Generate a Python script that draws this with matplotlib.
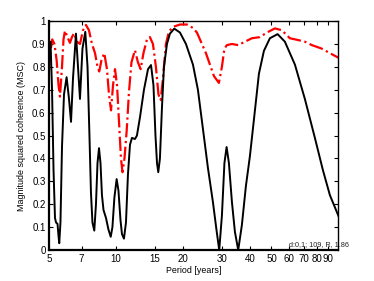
import numpy as np
import matplotlib
matplotlib.use('Agg')
import matplotlib.pyplot as plt

# MSC curve (solid black)
msc_period = [5.00, 5.08, 5.16, 5.24, 5.32, 5.38, 5.46, 5.52, 5.56, 5.63, 5.72, 5.84,
              6.00, 6.15, 6.28, 6.41, 6.61, 6.75, 6.89, 7.07, 7.28, 7.45, 7.60, 7.72,
              7.84, 7.99, 8.13, 8.26, 8.39, 8.52, 8.65, 8.79, 9.02, 9.25, 9.47, 9.64,
              9.84, 10.07, 10.26, 10.48, 10.64, 10.86, 11.09, 11.32, 11.56, 11.80, 12.17,
              12.42, 12.82, 13.36, 13.93, 14.37, 14.74, 15.05, 15.29, 15.49, 15.76, 16.09,
              16.43, 16.95, 17.48, 18.28, 19.39, 20.63, 22.18, 23.35, 24.59, 25.89, 27.27,
              28.28, 29.11, 29.93, 30.72, 31.42, 32.18, 33.20, 34.24, 35.43, 36.81, 38.37,
              39.99, 41.69, 43.90, 46.23, 49.18, 53.26, 57.43, 63.71, 70.63, 78.34, 85.08,
              91.50, 99.9]
msc_value = [0.83, 0.91, 0.70, 0.35, 0.14, 0.12, 0.115, 0.06, 0.03, 0.12, 0.45, 0.68,
             0.755, 0.66, 0.56, 0.75, 0.945, 0.80, 0.66, 0.88, 0.953, 0.80, 0.50, 0.25,
             0.12, 0.085, 0.20, 0.38, 0.445, 0.38, 0.24, 0.175, 0.14, 0.09, 0.058, 0.10,
             0.23, 0.31, 0.26, 0.13, 0.07, 0.05, 0.12, 0.33, 0.46, 0.49, 0.485,
             0.50, 0.58, 0.70, 0.79, 0.808, 0.72, 0.50, 0.38, 0.34, 0.40, 0.62,
             0.80, 0.90, 0.945, 0.967, 0.95, 0.90, 0.81, 0.70, 0.53, 0.36, 0.21,
             0.09, 0.0, 0.15, 0.38, 0.45, 0.38, 0.21, 0.08, 0.0, 0.11, 0.28,
             0.41, 0.57, 0.77, 0.87, 0.925, 0.943, 0.91, 0.81, 0.66, 0.49, 0.35,
             0.24, 0.15]

# significance level (red dash-dot)
sig_period = [5.00, 5.08, 5.17, 5.29, 5.41, 5.52, 5.60, 5.72, 5.81, 5.90, 6.05, 6.21,
              6.34, 6.48, 6.68, 6.89, 7.11, 7.33, 7.56, 7.80, 8.05, 8.26, 8.41, 8.61,
              8.86, 9.11, 9.30, 9.50, 9.70, 9.90, 10.11, 10.32, 10.53, 10.70, 10.92,
              11.17, 11.44, 11.74, 12.17, 12.55, 12.91, 13.29, 13.78, 14.21, 14.66,
              15.12, 15.52, 15.88, 16.26, 16.77, 17.30, 18.09, 19.39, 20.84, 22.18,
              23.11, 24.34, 25.37, 26.44, 27.56, 29.01, 29.93, 30.72, 31.52, 33.20,
              35.43, 37.97, 40.83, 44.35, 47.68, 51.80, 55.67, 60.48, 65.93, 70.63,
              75.97, 83.96, 91.50, 99.9]
sig_value = [0.78, 0.87, 0.92, 0.90, 0.83, 0.72, 0.67, 0.80, 0.92, 0.958, 0.93, 0.905,
             0.93, 0.947, 0.91, 0.90, 0.96, 0.983, 0.96, 0.90, 0.86, 0.80, 0.78, 0.83,
             0.86, 0.79, 0.68, 0.61, 0.72, 0.79, 0.72, 0.56, 0.40, 0.34, 0.40,
             0.52, 0.69, 0.82, 0.873, 0.82, 0.79, 0.86, 0.92, 0.93, 0.90,
             0.80, 0.68, 0.655, 0.75, 0.90, 0.955, 0.975, 0.985, 0.985, 0.97,
             0.95, 0.90, 0.86, 0.81, 0.76, 0.73, 0.80, 0.88, 0.895, 0.90,
             0.895, 0.91, 0.925, 0.93, 0.95, 0.968, 0.96, 0.925, 0.917, 0.91,
             0.895, 0.88, 0.86, 0.84]

xticks = [5, 7, 10, 15, 20, 30, 40, 50, 60, 70, 80, 90]
yticks = [0, 0.1, 0.2, 0.3, 0.4, 0.5, 0.6, 0.7, 0.8, 0.9, 1]
ytick_labels = ['0', '0.1', '0.2', '0.3', '0.4', '0.5', '0.6', '0.7', '0.8', '0.9', '1']

plt.rcParams['font.family'] = ['Liberation Sans', 'DejaVu Sans']

fig = plt.figure(figsize=(3.74, 2.81), dpi=100)
ax = fig.add_axes([0.131, 0.110, 0.774, 0.815])

ax.plot(sig_period, sig_value, color='#ff0000', linestyle='-.', linewidth=1.6)
ax.plot(msc_period, msc_value, color='black', linewidth=1.4)

ax.set_xscale('log')
ax.set_xlim(5, 100)
ax.set_ylim(0, 1)
ax.set_xticks(xticks)
ax.set_xticklabels([str(t) for t in xticks])
ax.xaxis.set_minor_locator(matplotlib.ticker.NullLocator())
ax.set_yticks(yticks)
ax.set_yticklabels(ytick_labels)
ax.tick_params(direction='in', top=True, right=True, labelsize=7, length=3, width=0.8, pad=2.5)
for sp in ax.spines.values():
    sp.set_linewidth(1.0)
ax.spines['bottom'].set_linewidth(1.6)
ax.spines['left'].set_linewidth(1.6)

ax.set_xlabel('Period [years]', fontsize=6.4, labelpad=1.5)
ax.set_ylabel('Magnitude squared coherence (MSC)', fontsize=6.4, labelpad=4)
# annotation runs over the right frame like in the original
ax.text(0.828, 0.017, 'd:0,1; 109, R, 1.86', transform=ax.transAxes,
        ha='left', va='baseline', fontsize=5.2, color='#222222', clip_on=False)

fig.savefig('out.png', dpi=100)
